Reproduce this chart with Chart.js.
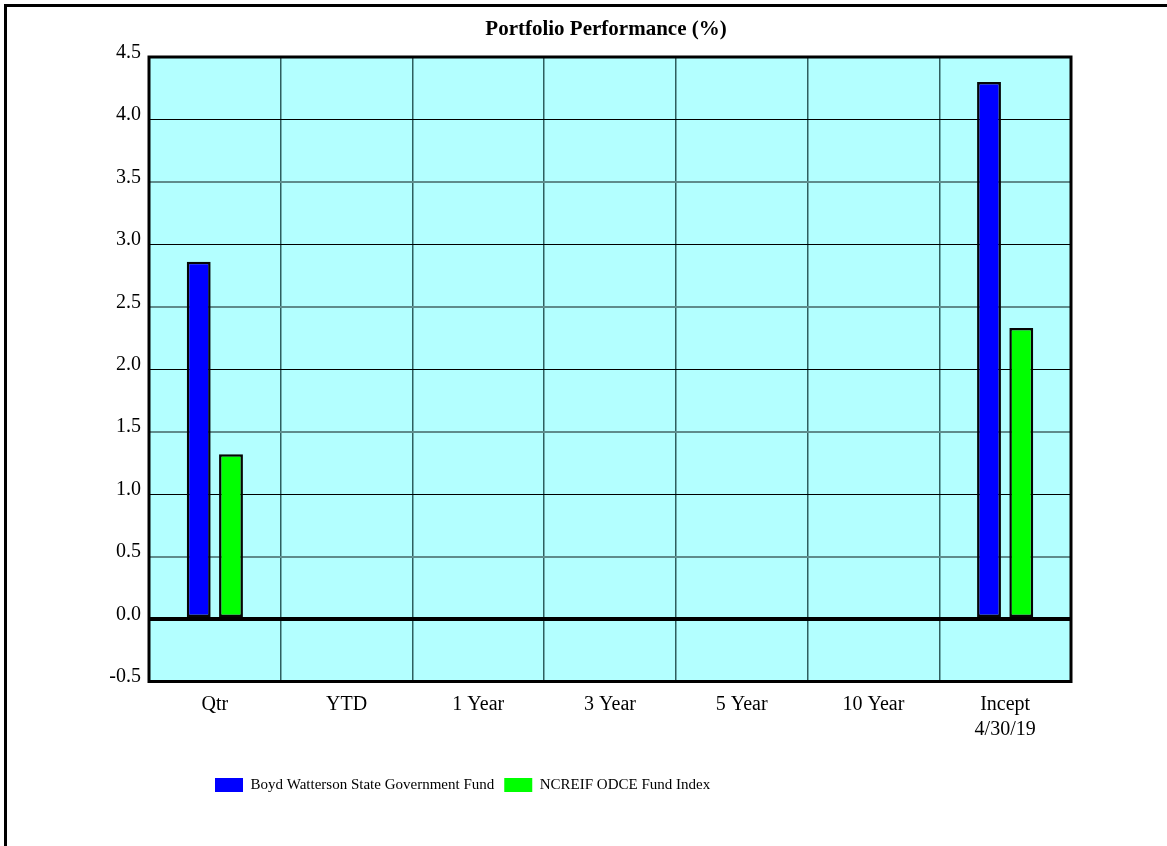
<!DOCTYPE html>
<html>
<head>
<meta charset="utf-8">
<title>Portfolio Performance (%)</title>
<script src="https://cdn.jsdelivr.net/npm/chart.js@4.4.1/dist/chart.umd.min.js"></script>
<style>
  html, body { margin: 0; padding: 0; background: #ffffff; }
  canvas { display: block; }
</style>
</head>
<body>
<canvas id="perf" width="1167" height="846"></canvas>
<script>
// Return periods shown along the bottom axis
const categories = ['Qtr', 'YTD', '1 Year', '3 Year', '5 Year', '10 Year', ['Incept', '4/30/19']];

// Returns in percent; periods without history are left empty
const fundReturns  = [2.86, null, null, null, null, null, 4.30];
const indexReturns = [1.32, null, null, null, null, null, 2.33];

const seriesNames  = ['Boyd Watterson State Government Fund', 'NCREIF ODCE Fund Index'];
const seriesColors = ['#0000ff', '#00ff00'];

// Value axis ticks
const yTickValues = [-0.5, 0.0, 0.5, 1.0, 1.5, 2.0, 2.5, 3.0, 3.5, 4.0, 4.5];

const serif = '"Liberation Serif", "Times New Roman", Times, serif';
Chart.defaults.font.family = serif;
Chart.defaults.color = '#000000';

// Page frame and the cyan plotting field behind the grid
const backdrop = {
  id: 'backdrop',
  beforeDraw(chart) {
    const ctx = chart.ctx;
    const a = chart.chartArea;
    ctx.save();
    ctx.fillStyle = '#ffffff';
    ctx.fillRect(0, 0, chart.width, chart.height);
    ctx.fillStyle = '#000000';
    ctx.fillRect(4, 4, chart.width - 4, 3);
    ctx.fillRect(4, 4, 3, chart.height - 4);
    ctx.fillStyle = '#b3ffff';
    ctx.fillRect(a.left, a.top, a.right - a.left, a.bottom - a.top);
    ctx.restore();
  }
};

// Heavy outline around the plotting field
const plotOutline = {
  id: 'plotOutline',
  afterDatasetsDraw(chart) {
    const ctx = chart.ctx;
    const a = chart.chartArea;
    ctx.save();
    ctx.strokeStyle = '#000000';
    ctx.lineWidth = 3;
    ctx.strokeRect(a.left, a.top, a.right - a.left, a.bottom - a.top);
    ctx.restore();
  }
};

// Title is centred over the plot; legend row starts under its left part
const blockPlacement = {
  id: 'blockPlacement',
  afterLayout(chart) {
    const a = chart.chartArea;
    if (chart.titleBlock) {
      chart.titleBlock.left = a.left - 8;
      chart.titleBlock.right = a.right;
    }
    if (chart.legend) {
      chart.legend.left = 205;
    }
  }
};

new Chart(document.getElementById('perf'), {
  type: 'bar',
  data: {
    labels: categories,
    datasets: [
      {
        label: seriesNames[0],
        data: fundReturns,
        backgroundColor: seriesColors[0],
        borderColor: '#050505',
        borderWidth: 2.5,
        borderSkipped: false,
        barPercentage: 0.74,
        categoryPercentage: 0.49
      },
      {
        label: seriesNames[1],
        data: indexReturns,
        backgroundColor: seriesColors[1],
        borderColor: '#050505',
        borderWidth: 2.5,
        borderSkipped: false,
        barPercentage: 0.74,
        categoryPercentage: 0.49
      }
    ]
  },
  options: {
    responsive: false,
    maintainAspectRatio: false,
    animation: false,
    devicePixelRatio: 1,
    layout: {
      padding: { left: 0, right: 96, top: 0, bottom: 43.5 }
    },
    plugins: {
      title: {
        display: true,
        text: 'Portfolio Performance (%)',
        color: '#000000',
        font: { family: serif, size: 21, weight: 'bold', lineHeight: 1.2 },
        padding: { top: 17, bottom: 14.8 }
      },
      legend: {
        position: 'bottom',
        align: 'start',
        labels: {
          boxWidth: 28,
          boxHeight: 14,
          padding: 10,
          color: '#000000',
          font: { family: serif, size: 15, lineHeight: 1.2 },
          generateLabels(chart) {
            const items = Chart.defaults.plugins.legend.labels.generateLabels(chart);
            items.forEach(it => { it.lineWidth = 0; it.strokeStyle = 'rgba(0,0,0,0)'; });
            return items;
          }
        }
      },
      tooltip: { enabled: false }
    },
    scales: {
      x: {
        offset: true,
        grid: {
          offset: true,
          drawTicks: false,
          color: '#2f5f5f',
          lineWidth: 1.5
        },
        border: { display: false },
        ticks: {
          padding: 11,
          color: '#000000',
          font: { family: serif, size: 20, lineHeight: 1.25 },
          maxRotation: 0,
          autoSkip: false
        },
        afterFit(scale) { scale.height = 86; }
      },
      y: {
        min: yTickValues[0],
        max: yTickValues[yTickValues.length - 1],
        afterBuildTicks(scale) {
          scale.ticks = yTickValues.map(v => ({ value: v }));
        },
        grid: {
          drawTicks: false,
          color(ctx) {
            const v = ctx.tick ? ctx.tick.value : 0;
            if (Math.abs(v) < 1e-9) return '#000000';
            return Math.abs(v - Math.round(v)) < 1e-9 ? '#000000' : '#5f8c8c';
          },
          lineWidth(ctx) {
            const v = ctx.tick ? ctx.tick.value : 0;
            if (Math.abs(v) < 1e-9) return 4;
            return Math.abs(v - Math.round(v)) < 1e-9 ? 1 : 2;
          }
        },
        border: { display: false },
        ticks: {
          padding: 8,
          color: '#000000',
          // a blank second line lifts each value so it sits just above its grid line
          font: { family: serif, size: 20, lineHeight: 0.45 },
          callback(value) { return [Number(value).toFixed(1), '']; }
        },
        afterFit(scale) { scale.width = 149; }
      }
    }
  },
  plugins: [backdrop, plotOutline, blockPlacement]
});
</script>
</body>
</html>
